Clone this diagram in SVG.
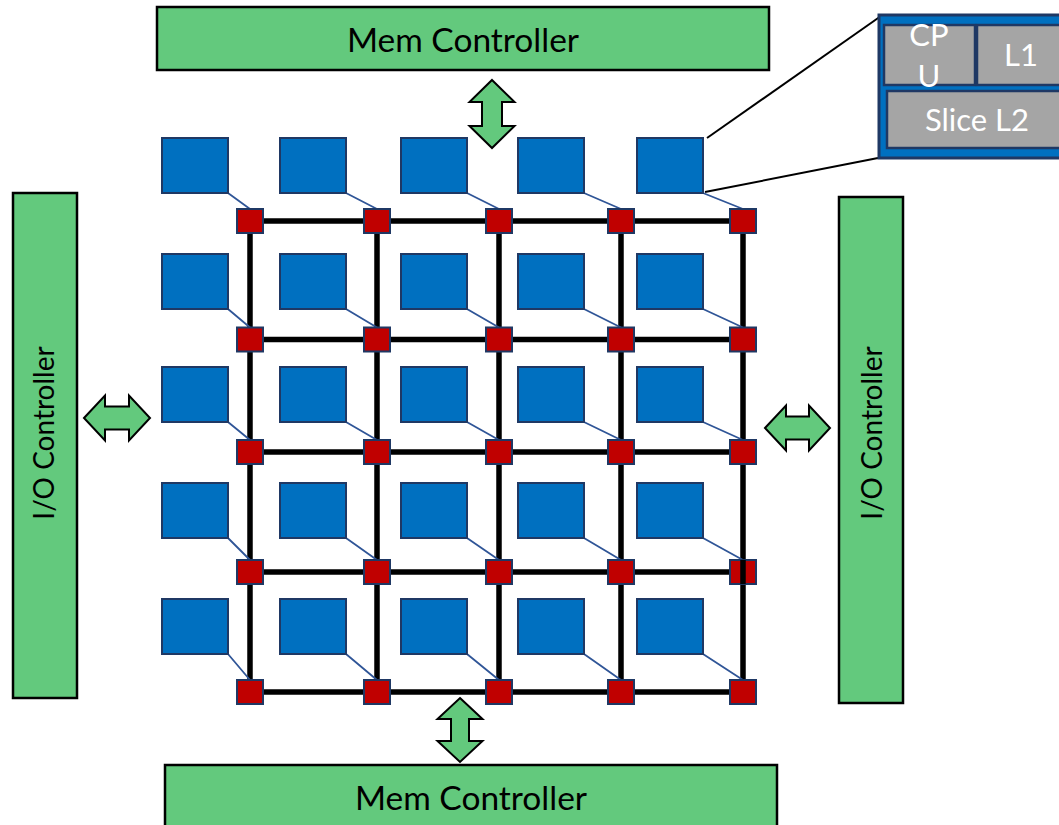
<svg xmlns="http://www.w3.org/2000/svg" width="1059" height="825" viewBox="0 0 1059 825">
  <style>
    .ctrl { fill: #63C97D; stroke: #000; stroke-width: 2.5; }
    .ctrl-label { font-family: Lato, "Open Sans", "Liberation Sans", sans-serif; fill: #000; text-anchor: middle; }
    .arrow { fill: #63C97D; stroke: #000; stroke-width: 2; stroke-linejoin: miter; }
    .tile { fill: #0070C0; stroke: #1F3864; stroke-width: 2; }
    .router { fill: #C00000; stroke: #1F3864; stroke-width: 2; }
    .mesh { stroke: #000; stroke-width: 5.5; fill: none; }
    .link { stroke: #2F5597; stroke-width: 1.8; fill: none; }
    .zoom { stroke: #000; stroke-width: 2; fill: none; }
    .part { fill: #A5A5A5; stroke: #1F3864; stroke-width: 2.5; }
    .part-label { font-family: Lato, "Open Sans", "Liberation Sans", sans-serif; fill: #fff; text-anchor: middle; font-size: 31px; }
  </style>

  <!-- Memory controllers -->
  <g id="mem-top">
    <rect class="ctrl" x="157" y="7" width="612" height="63"/>
    <text class="ctrl-label" x="463" y="52" font-size="33.5">Mem Controller</text>
  </g>
  <g id="mem-bottom">
    <rect class="ctrl" x="165" y="765" width="612" height="70"/>
    <text class="ctrl-label" x="471" y="810" font-size="33.5">Mem Controller</text>
  </g>

  <!-- I/O controllers -->
  <g id="io-left">
    <rect class="ctrl" x="13" y="193" width="64" height="505"/>
    <text class="ctrl-label" transform="translate(54,433) rotate(-90)" font-size="28">I/O Controller</text>
  </g>
  <g id="io-right">
    <rect class="ctrl" x="839" y="197" width="64" height="506"/>
    <text class="ctrl-label" transform="translate(882,433) rotate(-90)" font-size="28">I/O Controller</text>
  </g>

  <!-- Bidirectional arrows between controllers and the mesh -->
  <g id="arrows">
    <path class="arrow" d="M492,80 L514.5,102 L502,102 L502,126 L514.5,126 L492,148 L469.5,126 L482,126 L482,102 L469.5,102 Z"/>
    <path class="arrow" d="M460,698 L482.5,719 L469,719 L469,741 L482.5,741 L460,762 L437.5,741 L451,741 L451,719 L437.5,719 Z"/>
    <path class="arrow" d="M84,418 L105,395.5 L105,406.5 L129,406.5 L129,395.5 L150,418 L129,440.5 L129,429.5 L105,429.5 L105,440.5 Z"/>
    <path class="arrow" d="M765,428 L786,405.5 L786,416.5 L809,416.5 L809,405.5 L830,428 L809,450.5 L809,439.5 L786,439.5 L786,450.5 Z"/>
  </g>

  <!-- Mesh interconnect -->
  <g id="connectors">
    <g id="mesh-links">
      <path class="mesh" d="M250,221 H743 M250,339.5 H743 M250,452 H743 M250,572 H743 M250,692 H743"/>
      <path class="mesh" d="M250,221 V692 M377,221 V692 M499,221 V692 M621,221 V692 M743,221 V692"/>
    </g>
    <g id="tile-links">
      <path class="link" d="M228,193 L250,209 M346,193 L377,209 M467,193 L499,209 M584,193 L621,209 M703,193 L743,209"/>
      <path class="link" d="M228,309 L250,327.5 M346,309 L377,327.5 M467,309 L499,327.5 M584,309 L621,327.5 M703,309 L743,327.5"/>
      <path class="link" d="M228,422 L250,440 M346,422 L377,440 M467,422 L499,440 M584,422 L621,440 M703,422 L743,440"/>
      <path class="link" d="M228,538 L250,560 M346,538 L377,560 M467,538 L499,560 M584,538 L621,560 M703,538 L743,560"/>
      <path class="link" d="M228,654 L250,680 M346,654 L377,680 M467,654 L499,680 M584,654 L621,680 M703,654 L743,680"/>
    </g>
    <g id="zoom-lines">
      <path class="zoom" d="M707,138 L881,16"/>
      <path class="zoom" d="M705,192 L878,158"/>
    </g>
  </g>

  <!-- Core tiles -->
  <g id="tiles">
    <rect class="tile" x="162" y="138" width="66" height="55"/>
    <rect class="tile" x="280" y="138" width="66" height="55"/>
    <rect class="tile" x="401" y="138" width="66" height="55"/>
    <rect class="tile" x="518" y="138" width="66" height="55"/>
    <rect class="tile" x="637" y="138" width="66" height="55"/>

    <rect class="tile" x="162" y="254" width="66" height="55"/>
    <rect class="tile" x="280" y="254" width="66" height="55"/>
    <rect class="tile" x="401" y="254" width="66" height="55"/>
    <rect class="tile" x="518" y="254" width="66" height="55"/>
    <rect class="tile" x="637" y="254" width="66" height="55"/>

    <rect class="tile" x="162" y="367" width="66" height="55"/>
    <rect class="tile" x="280" y="367" width="66" height="55"/>
    <rect class="tile" x="401" y="367" width="66" height="55"/>
    <rect class="tile" x="518" y="367" width="66" height="55"/>
    <rect class="tile" x="637" y="367" width="66" height="55"/>

    <rect class="tile" x="162" y="483" width="66" height="55"/>
    <rect class="tile" x="280" y="483" width="66" height="55"/>
    <rect class="tile" x="401" y="483" width="66" height="55"/>
    <rect class="tile" x="518" y="483" width="66" height="55"/>
    <rect class="tile" x="637" y="483" width="66" height="55"/>

    <rect class="tile" x="162" y="599" width="66" height="55"/>
    <rect class="tile" x="280" y="599" width="66" height="55"/>
    <rect class="tile" x="401" y="599" width="66" height="55"/>
    <rect class="tile" x="518" y="599" width="66" height="55"/>
    <rect class="tile" x="637" y="599" width="66" height="55"/>
  </g>

  <!-- Routers -->
  <g id="routers">
    <rect class="router" x="237" y="209" width="26" height="24"/>
    <rect class="router" x="364" y="209" width="26" height="24"/>
    <rect class="router" x="486" y="209" width="26" height="24"/>
    <rect class="router" x="608" y="209" width="26" height="24"/>
    <rect class="router" x="730" y="209" width="26" height="24"/>

    <rect class="router" x="237" y="327.5" width="26" height="24"/>
    <rect class="router" x="364" y="327.5" width="26" height="24"/>
    <rect class="router" x="486" y="327.5" width="26" height="24"/>
    <rect class="router" x="608" y="327.5" width="26" height="24"/>
    <rect class="router" x="730" y="327.5" width="26" height="24"/>

    <rect class="router" x="237" y="440" width="26" height="24"/>
    <rect class="router" x="364" y="440" width="26" height="24"/>
    <rect class="router" x="486" y="440" width="26" height="24"/>
    <rect class="router" x="608" y="440" width="26" height="24"/>
    <rect class="router" x="730" y="440" width="26" height="24"/>

    <rect class="router" x="237" y="560" width="26" height="24"/>
    <rect class="router" x="364" y="560" width="26" height="24"/>
    <rect class="router" x="486" y="560" width="26" height="24"/>
    <rect class="router" x="608" y="560" width="26" height="24"/>
    <rect class="router" x="730" y="560" width="26" height="24"/>

    <rect class="router" x="237" y="680" width="26" height="24"/>
    <rect class="router" x="364" y="680" width="26" height="24"/>
    <rect class="router" x="486" y="680" width="26" height="24"/>
    <rect class="router" x="608" y="680" width="26" height="24"/>
    <rect class="router" x="730" y="680" width="26" height="24"/>
    <!-- vertical link passes over this router -->
    <path class="mesh" d="M743,560 V584"/>
  </g>

  <!-- Tile detail: CPU, L1 and L2 slice -->
  <g id="tile-detail">
    <rect x="879" y="15" width="186" height="143" fill="#0070C0" stroke="#1F3864" stroke-width="3"/>
    <g id="cpu">
      <rect class="part" x="884" y="25" width="91" height="60"/>
      <text class="part-label" x="929" y="46">CP</text>
      <text class="part-label" x="929" y="87">U</text>
    </g>
    <g id="l1">
      <rect class="part" x="977" y="25" width="90" height="60"/>
      <text class="part-label" x="1021" y="66">L1</text>
    </g>
    <g id="l2">
      <rect class="part" x="887" y="91" width="180" height="57"/>
      <text class="part-label" x="977" y="131">Slice L2</text>
    </g>
  </g>
</svg>
